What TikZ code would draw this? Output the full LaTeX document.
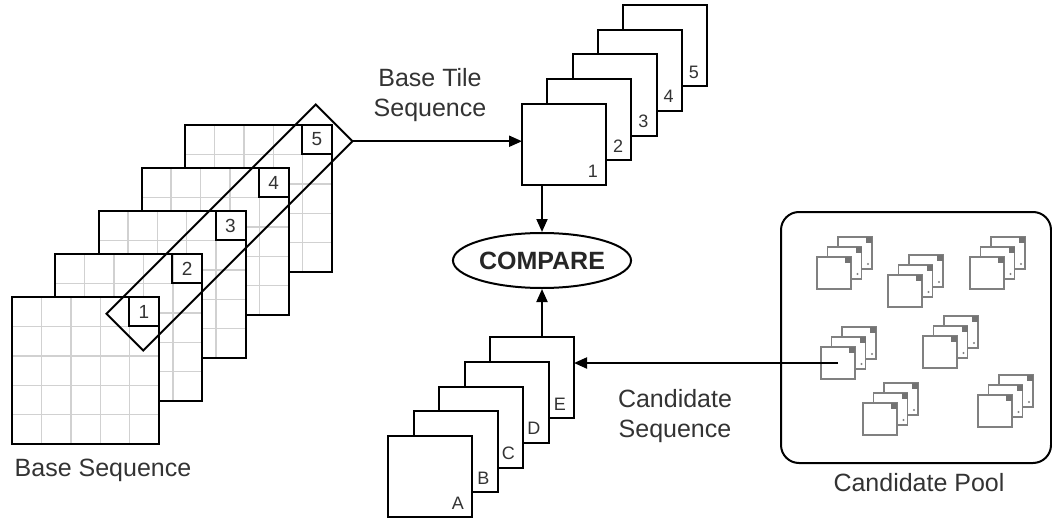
\documentclass[tikz,border=0pt]{standalone}
\usepackage{fontspec}
\setmainfont{Liberation Sans}
\usetikzlibrary{shapes.geometric,arrows.meta,calc}
\begin{document}
\begin{tikzpicture}[x=1pt,y=-1pt,
  sq/.style={draw=black, line width=2pt, fill=white, anchor=north west, inner sep=0pt, outer sep=0pt},
  bigsq/.style={sq, minimum width=147pt, minimum height=147pt},
  tilesq/.style={sq, minimum width=84pt, minimum height=81pt},
  gridline/.style={draw=black!18, line width=1.4pt},
  cellbox/.style={draw=black, line width=2pt, anchor=north east, minimum width=30pt, minimum height=29pt, inner sep=0pt, outer sep=0pt, font=\fontsize{19}{19}\selectfont, text=black!80},
  lab/.style={font=\fontsize{18}{18}\selectfont, anchor=base east, inner sep=0pt, text=black!80},
  txt/.style={font=\fontsize{25}{30}\selectfont, align=center, text=black!80},
  arr/.style={line width=2pt, -{Triangle[length=13pt,width=11pt]}},
  mini/.style={draw=black!50, line width=1.3pt, fill=white, anchor=north west, minimum width=34pt, minimum height=32pt, inner sep=0pt, outer sep=0pt},
  minimark/.style={fill=black!55},
]
\useasboundingbox (0,0) rectangle (1052,519);

% Base sequence (back to front)
\foreach \k in {5,4,3,2,1} {
  \node[bigsq] (b\k) at ({12+43.25*(\k-1)},{297-43*(\k-1)}) {};
  \foreach \i in {1,2,3,4} {
    \draw[gridline] ($(b\k.north west)+({29.4*\i},0)$) -- ($(b\k.south west)+({29.4*\i},0)$);
    \draw[gridline] ($(b\k.north west)+(0,{29.4*\i})$) -- ($(b\k.north east)+(0,{29.4*\i})$);
  }
  \draw[black, line width=2pt] (b\k.north west) rectangle (b\k.south east);
  \node[cellbox] (s\k) at (b\k.north east) {\k};
}

% Selection rectangle across tiles
\node[draw=black, line width=2pt, rotate=45, minimum width=296pt, minimum height=52pt, inner sep=0pt, outer sep=0pt] (sel) at (229.5,227.5) {};

% Base tile sequence
\foreach \k in {5,4,3,2,1} {
  \node[tilesq] (t\k) at ({522+25.25*(\k-1)},{104-24.75*(\k-1)}) {};
  \node[lab] (tl\k) at ($(t\k.south east)+(-8,-8)$) {\k};
}

% Candidate sequence
\foreach \k/\l in {5/E,4/D,3/C,2/B,1/A} {
  \node[tilesq] (c\k) at ({388+25.5*(\k-1)},{436-24.75*(\k-1)}) {};
  \node[lab] (cl\k) at ($(c\k.south east)+(-8,-8)$) {\l};
}

% Compare
\node[draw=black, ellipse, line width=2pt, minimum width=176pt, minimum height=55pt, inner sep=0pt, text=black!85, font=\bfseries\fontsize{25}{25}\selectfont] (cmp) at (542,260.5) {COMPARE};

% Candidate pool
\node[draw=black, line width=2pt, rounded corners=18pt, anchor=north west, minimum width=270pt, minimum height=251pt, inner sep=0pt] (pool) at (780,211) {};

\foreach \n/\x/\y in {1/817/257, 2/888/275, 3/970/257, 4/821/347, 5/923/336, 6/863/403, 7/978/395} {
  \node[mini] (pc\n) at ({\x+21},{\y-20}) {};
  \fill[minimark] ($(pc\n.north east)+(-6,0)$) rectangle ($(pc\n.north east)+(0,6)$);
  \fill[black!50] ($(pc\n.south east)+(-4,-5)$) circle (1.2pt);
  \node[mini] (pb\n) at ({\x+10.5},{\y-10}) {};
  \fill[minimark] ($(pb\n.north east)+(-6,0)$) rectangle ($(pb\n.north east)+(0,6)$);
  \fill[black!50] ($(pb\n.south east)+(-4,-5)$) circle (1.2pt);
  \node[mini] (pa\n) at (\x,\y) {};
  \fill[minimark] ($(pa\n.north east)+(-6,0)$) rectangle ($(pa\n.north east)+(0,6)$);
}

% Connectors
\draw[arr] (sel.south east) -- (sel.south east -| t1.west);
\draw[arr] (cmp.north |- t1.south) -- (cmp.north);
\draw[arr] (cmp.south |- c5.north) -- (cmp.south);
\draw[arr] (pa4.center) -- (pa4.center -| c5.east);

% Labels
\node[txt] (lbts) at (430,95) {Base Tile\\Sequence};
\node[txt] (lcs) at (675,416) {Candidate\\Sequence};
\node[txt] (lbs) at (103,470) {Base Sequence};
\node[txt] (lcp) at (919,483) {Candidate Pool};
\end{tikzpicture}
\end{document}
